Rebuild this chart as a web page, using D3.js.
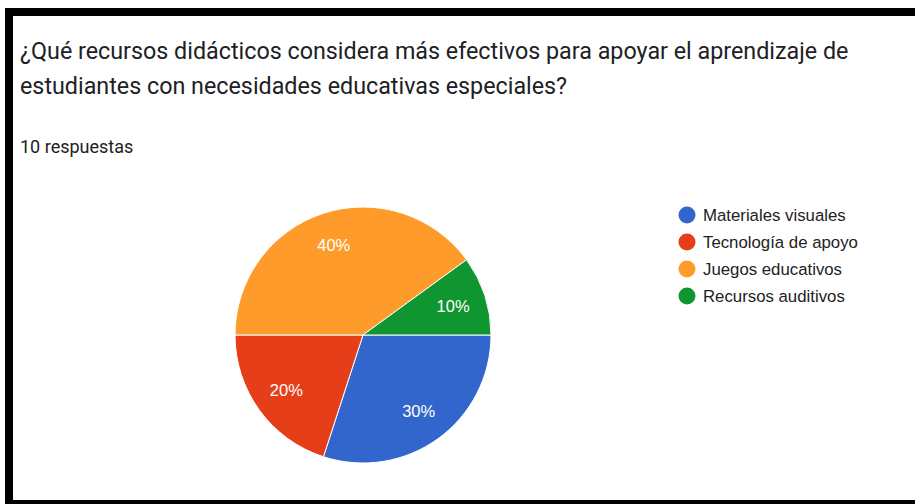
<!DOCTYPE html>
<html>
<head>
<meta charset="utf-8">
<script src="https://cdn.jsdelivr.net/npm/d3@7"></script>
<style>
  body { margin: 0; background: #fff; }
</style>
</head>
<body>
<div id="chart"></div>
<script>
const titleLines = [
    "¿Qué recursos didácticos considera más efectivos para apoyar el aprendizaje de",
    "estudiantes con necesidades educativas especiales?"
]
const subtitle = "10 respuestas"
const categories = ["Materiales visuales", "Tecnología de apoyo", "Juegos educativos", "Recursos auditivos"]
const values = [30, 20, 40, 10]
const colors = ["#3366cc", "#e53e19", "#ff9b2b", "#109630"]

const width = 915, height = 504

const svg = d3.select("#chart").append("svg")
    .attr("width", width)
    .attr("height", height)

// black frame of the screenshot
svg.append("rect").attr("x", 5).attr("y", 8).attr("width", width - 5).attr("height", 8).attr("fill", "#000")
svg.append("rect").attr("x", 5).attr("y", 8).attr("width", 8).attr("height", height - 8).attr("fill", "#000")
svg.append("rect").attr("x", 5).attr("y", 500).attr("width", width - 5).attr("height", 4).attr("fill", "#000")

svg.selectAll("text.title")
    .data(titleLines)
    .join("text")
        .attr("class", "title")
        .attr("x", 20)
        .attr("y", (d, i) => 59 + i * 35)
        .attr("font-family", "Roboto, Arial, sans-serif")
        .attr("font-size", 23.3)
        .attr("fill", "#202124")
        .text(d => d)

svg.append("text")
    .attr("x", 20)
    .attr("y", 153)
    .attr("font-family", "Roboto, Arial, sans-serif")
    .attr("font-size", 18)
    .attr("fill", "#202124")
    .text(subtitle)

const data = categories.map((c, i) => ({name: c, value: values[i], color: colors[i]}))
const total = d3.sum(values)

const cx = 363, cy = 335, radius = 128

const pie = d3.pie()
    .value(d => d.value)
    .sort(null)
    .startAngle(Math.PI / 2)
    .endAngle(Math.PI / 2 + 2 * Math.PI)

const arc = d3.arc().innerRadius(0).outerRadius(radius)
const labelArc = d3.arc().innerRadius(radius * 0.74).outerRadius(radius * 0.74)

const g = svg.append("g").attr("transform", `translate(${cx},${cy})`)

const arcs = pie(data)

g.selectAll("path")
    .data(arcs)
    .join("path")
        .attr("d", arc)
        .attr("fill", d => d.data.color)
        .attr("stroke", "#fff")
        .attr("stroke-width", 1)

g.selectAll("text")
    .data(arcs)
    .join("text")
        .attr("transform", d => `translate(${labelArc.centroid(d)})`)
        .attr("text-anchor", "middle")
        .attr("dy", "0.35em")
        .attr("font-family", "Arial, 'Liberation Sans', sans-serif")
        .attr("font-size", 16.5)
        .attr("fill", "#fff")
        .text(d => Math.round(d.data.value / total * 100) + "%")

// legend
const legend = svg.append("g").attr("transform", "translate(687,215)")
const rows = legend.selectAll("g")
    .data(data)
    .join("g")
        .attr("transform", (d, i) => `translate(0,${i * 27})`)

rows.append("circle")
    .attr("r", 8.5)
    .attr("fill", d => d.color)

rows.append("text")
    .attr("x", 16)
    .attr("dy", "0.35em")
    .attr("font-family", "Arial, 'Liberation Sans', sans-serif")
    .attr("font-size", 16.8)
    .attr("fill", "#222")
    .text(d => d.name)
</script>
</body>
</html>
